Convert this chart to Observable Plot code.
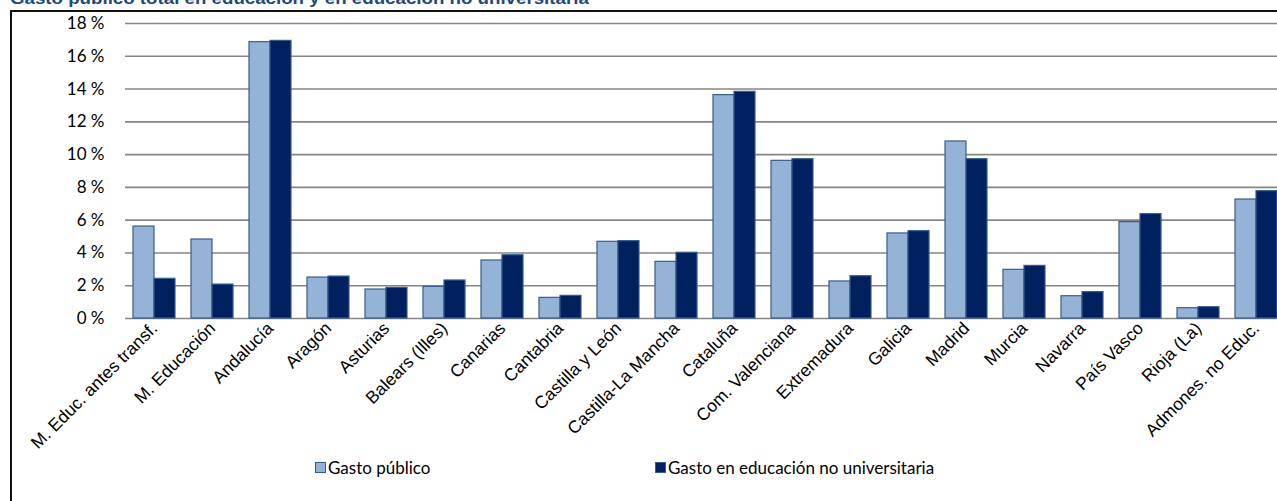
<!DOCTYPE html>
<html>
<head>
<meta charset="utf-8">
<script src="https://cdn.jsdelivr.net/npm/d3@7"></script>
<script src="https://cdn.jsdelivr.net/npm/@observablehq/plot@0.6"></script>
<style>
  html, body { margin: 0; padding: 0; background: #fff; overflow: hidden; }
  #wrap { position: relative; width: 1277px; height: 501px; overflow: hidden; }
  #title { position: absolute; left: 10px; top: -11px; font: bold 17px/20px "Liberation Sans", Arial, sans-serif; color: #1F497D; white-space: nowrap; transform: scaleX(1.1); transform-origin: left top; }
  #frame { position: absolute; left: 10px; top: 10px; width: 1400px; height: 600px; border: 2px solid #111; box-sizing: border-box; }
  #chart { position: absolute; left: 0; top: 0; width: 1300px; }
  #chart svg { max-width: none; }
  .leg { position: absolute; top: 457px; font: 17px/21px Lato, "Open Sans", sans-serif; color: #000; white-space: nowrap; display: flex; align-items: center; }
  .sw { width: 9px; height: 9px; border: 1px solid #385D8A; margin-right: 2px; display: inline-block; }
</style>
</head>
<body>
<div id="wrap">
  <div id="title">Gasto público total en educación y en educación no universitaria</div>
  <div id="frame"></div>
  <div id="chart"></div>
  <div class="leg" style="left:315px"><span class="sw" style="background:#95B3D7"></span>Gasto público</div>
  <div class="leg" style="left:655px"><span class="sw" style="background:#002060"></span>Gasto en educación no universitaria</div>
</div>
<script>
const categories = [
  "M. Educ. antes transf.", "M. Educación", "Andalucía", "Aragón", "Asturias",
  "Balears (Illes)", "Canarias", "Cantabria", "Castilla y León", "Castilla-La Mancha",
  "Cataluña", "Com. Valenciana", "Extremadura", "Galicia", "Madrid",
  "Murcia", "Navarra", "País Vasco", "Rioja (La)", "Admones. no Educ."
];
const seriesNames = ["Gasto público", "Gasto en educación no universitaria"];
const gastoPublico = [5.61, 4.82, 16.86, 2.50, 1.77, 1.93, 3.54, 1.26, 4.68, 3.46, 13.63, 9.62, 2.26, 5.19, 10.80, 2.97, 1.36, 5.88, 0.63, 7.26];
const gastoNoUniv  = [2.42, 2.07, 16.94, 2.56, 1.87, 2.32, 3.86, 1.38, 4.72, 4.01, 13.83, 9.72, 2.58, 5.33, 9.72, 3.21, 1.61, 6.37, 0.69, 7.77];
const yTicks = [0, 2, 4, 6, 8, 10, 12, 14, 16, 18];
const colors = ["#95B3D7", "#002060"];

const data = categories.flatMap((c, i) => [
  {cat: c, serie: seriesNames[0], v: gastoPublico[i]},
  {cat: c, serie: seriesNames[1], v: gastoNoUniv[i]}
]);

const chart = Plot.plot({
  width: 1300,
  height: 501,
  marginLeft: 121,
  marginRight: 11,
  marginTop: 23,
  marginBottom: 183,
  style: {fontFamily: "Liberation Sans, Arial, sans-serif", background: "transparent", overflow: "visible", maxWidth: "none"},
  fx: {domain: categories, padding: 0, label: null},
  x: {domain: seriesNames, paddingInner: 0, paddingOuter: 0.327, axis: null},
  y: {domain: [0, 18], label: null},
  color: {domain: seriesNames, range: colors},
  marks: [
    Plot.ruleY(yTicks, {stroke: "#868686", strokeWidth: 1.6}),
    Plot.barY(data, {fx: "cat", x: "serie", y: "v", fill: "serie", stroke: "#385D8A", strokeWidth: 1.2, inset: 0}),
    Plot.axisY({ticks: yTicks, tickFormat: d => d + " %", tickSize: 0, tickPadding: 21, label: null, fontFamily: "Lato, sans-serif", fontSize: 17, fill: "#000"}),
    Plot.axisFx({anchor: "bottom", tickRotate: -45, tickSize: 0, tickPadding: 7, label: null, fontSize: 17.5, fill: "#000"})
  ]
});
document.getElementById("chart").appendChild(chart);
</script>
</body>
</html>
